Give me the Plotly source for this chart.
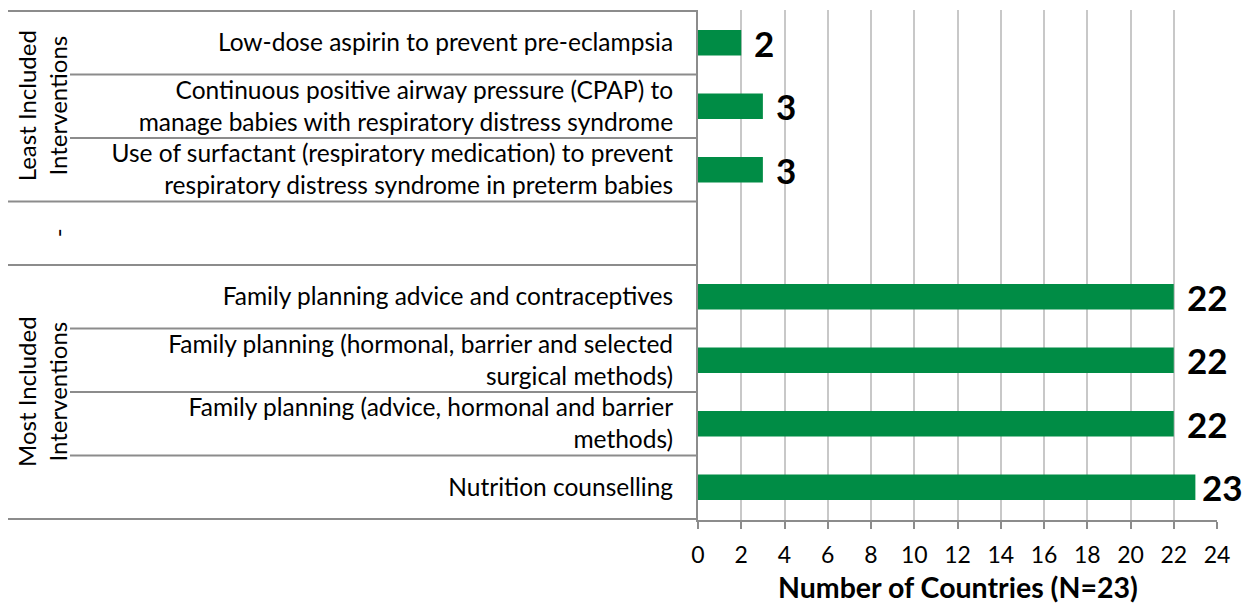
import plotly.graph_objects as go

# interventions, top to bottom (" " marks the empty separator row)
interventions = [
    "Low-dose aspirin to prevent pre-eclampsia",
    "Continuous positive airway pressure (CPAP) to<br>manage babies with respiratory distress syndrome",
    "Use of surfactant (respiratory medication) to prevent<br>respiratory distress syndrome in preterm babies",
    " ",
    "Family planning advice and contraceptives",
    "Family planning (hormonal, barrier and selected<br>surgical methods)",
    "Family planning (advice, hormonal and barrier<br>methods)",
    "Nutrition counselling",
]
countries = [2, 3, 3, None, 22, 22, 22, 23]

# groups: label, first row index, last row index
groups = [
    ("Least Included<br>Interventions", 0, 2),
    ("-", 3, 3),
    ("Most Included<br>Interventions", 4, 7),
]

x_title = "Number of Countries (N=23)"

FONT = "Lato"
GREEN = "#008c45"
LINE = "#8c8c8c"

W, H = 1252, 606
L, R, T, B = 698, 35, 10, 86
PW = W - L - R
PH = H - T - B
XMAX = 24

fig = go.Figure()
fig.add_trace(go.Bar(
    x=countries, y=interventions, orientation="h",
    marker=dict(color=GREEN, line=dict(width=0)),
    hoverinfo="x+y",
))

# value labels to the right of each bar (kept inside the figure)
for name, v in zip(interventions, countries):
    if v is None:
        continue
    room = W - 10 - (L + v / XMAX * PW) - 42
    fig.add_annotation(x=v, y=name, text="<b>%d</b>" % v, showarrow=False,
                       xanchor="left", xshift=min(11, room),
                       font=dict(family=FONT, size=35, color="black"))

# separator lines in the label area
n = len(interventions)
inner_x0 = (70 - L) / PW
outer_x0 = (8 - L) / PW
group_edges = set()
for _, a, b in groups:
    group_edges.add(a - 0.5)
    group_edges.add(b + 0.5)
for i in range(n + 1):
    pos = i - 0.5
    x0 = outer_x0 if pos in group_edges else inner_x0
    fig.add_shape(type="line", xref="paper", yref="y", x0=x0, x1=0,
                  y0=pos, y1=pos, line=dict(color=LINE, width=2))

# group labels
for label, a, b in groups:
    cx = 57 if label == "-" else 42
    fig.add_annotation(xref="paper", yref="y", x=(cx - L) / PW,
                       y=(a + b) / 2, text=label, textangle=-90,
                       showarrow=False, xanchor="center", yanchor="middle",
                       font=dict(family=FONT, size=24, color="black"))

# x axis title, placed below the tick labels
fig.add_annotation(xref="paper", yref="paper", x=0.5, y=-67 / PH,
                   text="<b>%s</b>" % x_title, showarrow=False,
                   xanchor="center", yanchor="middle",
                   font=dict(family=FONT, size=28.5, color="black"))

fig.update_layout(
    width=W, height=H,
    margin=dict(l=L, r=R, t=T, b=B, autoexpand=False),
    plot_bgcolor="white", paper_bgcolor="white",
    bargap=0.6, showlegend=False,
    font=dict(family=FONT, size=24.5, color="black"),
    xaxis=dict(
        range=[0, XMAX], dtick=2, tick0=0, automargin=False,
        showgrid=True, gridcolor="#c8c8c8", gridwidth=2,
        zeroline=False, showline=True, linecolor=LINE, linewidth=2,
        ticks="outside", ticklen=7, tickcolor=LINE, tickwidth=2,
        ticklabelstandoff=6,
        tickfont=dict(family=FONT, size=23, color="black"),
    ),
    yaxis=dict(
        autorange="reversed", showgrid=False, zeroline=False, automargin=False,
        showline=True, linecolor=LINE, linewidth=2,
        ticks="", ticklabelstandoff=18,
        tickfont=dict(family=FONT, size=24.5, color="black"),
    ),
)

# drop the default 8px page margin so the figure fills the window
fig.write_html("out.html", config={"displayModeBar": False},
               post_script="document.body.style.margin='0';"
                           "document.body.style.overflow='hidden';")
